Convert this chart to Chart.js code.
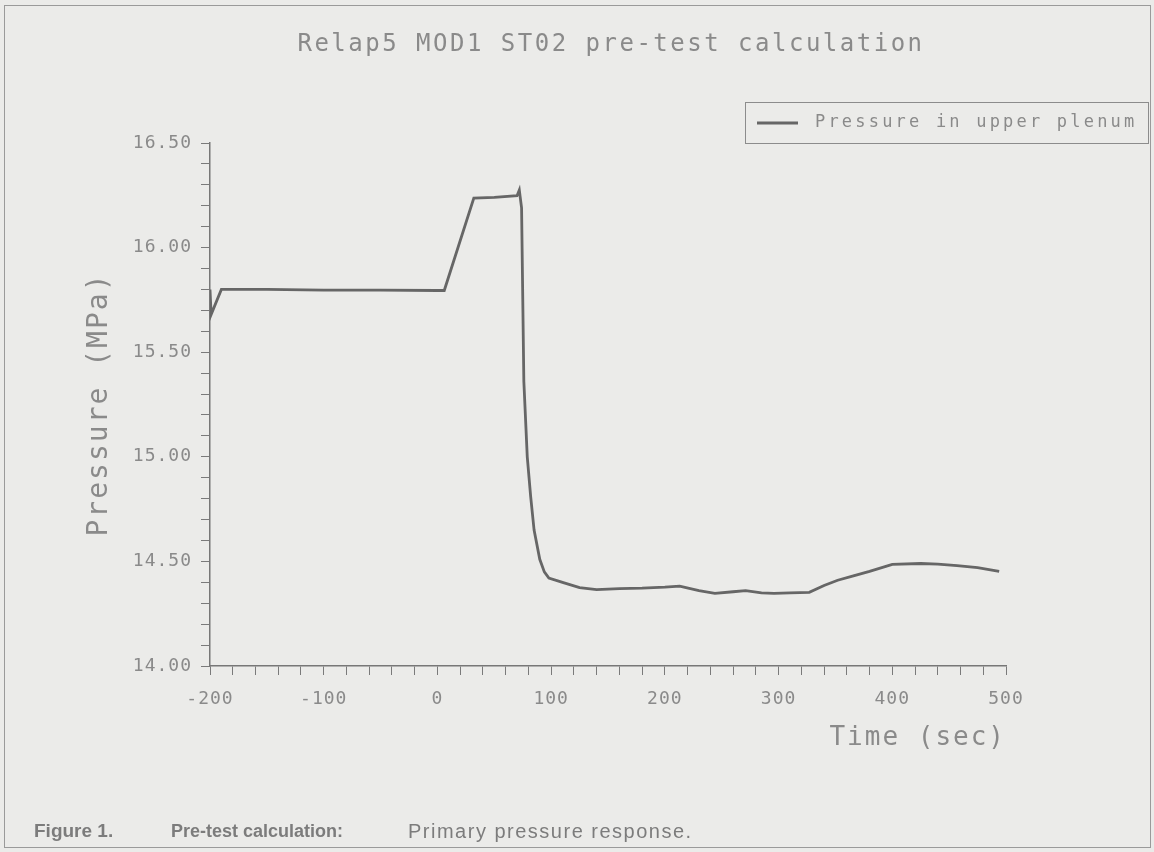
<!DOCTYPE html>
<html>
<head>
<meta charset="utf-8">
<title>Relap5 MOD1 ST02 pre-test calculation</title>
<script src="https://cdn.jsdelivr.net/npm/chart.js@4.4.1/dist/chart.umd.min.js"></script>
<style>
    html, body { margin: 0; padding: 0; background: #ebebe9; }
    #chart-wrap { width: 1154px; height: 852px; }
</style>
</head>
<body>
<div id="chart-wrap"><canvas id="pressure-chart" width="1154" height="852"></canvas></div>
<script>
// values
let times = [-200, -199, -190, -150, -100, -50, 0, 6, 32, 50, 70, 72, 74, 76, 79, 82, 85, 90, 94, 98,
    110, 125, 140, 160, 180, 200, 213, 230, 244, 260, 271, 285, 296, 310, 327, 340, 352, 365, 380,
    400, 425, 440, 457, 475, 494];
let pressures = [15.80, 15.68, 15.80, 15.80, 15.797, 15.797, 15.795, 15.795, 16.237, 16.24, 16.248, 16.275,
    16.19, 15.36, 15.0, 14.81, 14.65, 14.51, 14.45, 14.42, 14.40, 14.375, 14.365, 14.37, 14.372, 14.377,
    14.382, 14.36, 14.347, 14.355, 14.36, 14.35, 14.347, 14.35, 14.352, 14.385, 14.41, 14.43, 14.452,
    14.486, 14.49, 14.487, 14.48, 14.47, 14.452];
let yMajor = [14.0, 14.5, 15.0, 15.5, 16.0, 16.5];
let xMajor = [-200, -100, 0, 100, 200, 300, 400, 500];

let titleText = 'Relap5 MOD1 ST02 pre-test calculation';
let seriesLabel = 'Pressure in upper plenum';
let captionParts = [
    { text: 'Figure 1.', x: 34, font: 'bold 19px', spacing: '0px' },
    { text: 'Pre-test calculation:', x: 171, font: 'bold 18px', spacing: '0px' },
    { text: 'Primary pressure response.', x: 408, font: '20px', spacing: '1.5px' },
];

let mono = '"DejaVu Sans Mono", monospace';
let textGray = '#8a8a8a';
let lineGray = '#666666';

let points = times.map((t, i) => ({ x: t, y: pressures[i] }));

// title, legend box, caption and page frame drawn on top of the chart
let paperDecor = {
    id: 'paperDecor',
    beforeDraw(chart) {
        chart.ctx.letterSpacing = '2px'; // axis titles
    },
    afterDatasetsDraw(chart) {
        chart.ctx.letterSpacing = '1px'; // tick labels (ticks.z = 1)
    },
    afterDraw(chart) {
        let ctx = chart.ctx;
        ctx.save();

        // page frame from the scan
        ctx.letterSpacing = '0px';
        ctx.strokeStyle = '#9a9a9a';
        ctx.lineWidth = 1;
        ctx.strokeRect(4.5, 5.5, 1146, 842);

        // title
        ctx.letterSpacing = '2.5px';
        ctx.font = '24px ' + mono;
        ctx.fillStyle = textGray;
        ctx.textAlign = 'center';
        ctx.textBaseline = 'middle';
        ctx.fillText(titleText, 611, 45);

        // legend
        ctx.strokeStyle = '#8c8c8c';
        ctx.strokeRect(745.5, 102.5, 403, 41);
        let ds = chart.data.datasets[0];
        ctx.strokeStyle = ds.borderColor;
        ctx.lineWidth = ds.borderWidth;
        ctx.beginPath();
        ctx.moveTo(757, 123);
        ctx.lineTo(798, 123);
        ctx.stroke();
        ctx.letterSpacing = '3.2px';
        ctx.font = '17px ' + mono;
        ctx.textAlign = 'left';
        ctx.fillText(ds.label, 815, 123);

        // caption
        ctx.fillStyle = '#7c7c7c';
        captionParts.forEach((p) => {
            ctx.letterSpacing = p.spacing;
            ctx.font = p.font + ' "Liberation Sans", Arial, sans-serif';
            ctx.fillText(p.text, p.x, 832);
        });
        ctx.restore();
    },
};

new Chart(document.getElementById('pressure-chart'), {
    type: 'line',
    data: {
        datasets: [
            {
                label: seriesLabel,
                data: points,
                borderColor: lineGray,
                borderWidth: 2.8,
                pointRadius: 0,
                tension: 0,
                fill: false,
            },
        ],
    },
    options: {
        responsive: false,
        animation: false,
        layout: {
            padding: { left: 0, right: 148, top: 143, bottom: 0 },
        },
        plugins: {
            legend: { display: false },
            title: { display: false },
            tooltip: { enabled: false },
        },
        scales: {
            x: {
                type: 'linear',
                min: -200,
                max: 500,
                afterFit: (scale) => { scale.height = 186; },
                grid: { drawOnChartArea: false, tickLength: 9, color: '#7a7a7a' },
                border: { color: '#777777', width: 1.5 },
                ticks: {
                    stepSize: 20,
                    maxTicksLimit: 100,
                    autoSkip: false,
                    maxRotation: 0,
                    padding: 14,
                    z: 1,
                    color: textGray,
                    font: { family: mono, size: 18 },
                    callback: (v) => (xMajor.includes(Math.round(v)) ? String(Math.round(v)) : ''),
                },
                title: {
                    display: true,
                    text: 'Time (sec)',
                    align: 'end',
                    color: textGray,
                    font: { family: mono, size: 26 },
                    padding: { top: 0, bottom: 98 },
                },
            },
            y: {
                type: 'linear',
                min: 14,
                max: 16.5,
                afterFit: (scale) => { scale.width = 210; },
                grid: { drawOnChartArea: false, tickLength: 9, color: '#7a7a7a' },
                border: { color: '#777777', width: 1.5 },
                ticks: {
                    stepSize: 0.1,
                    maxTicksLimit: 100,
                    autoSkip: false,
                    padding: 9,
                    z: 1,
                    color: textGray,
                    font: { family: mono, size: 18 },
                    callback: (v) => {
                        let major = yMajor.find((m) => Math.abs(m - v) < 1e-6);
                        return major !== undefined ? major.toFixed(2) : '';
                    },
                },
                title: {
                    display: true,
                    text: 'Pressure (MPa)',
                    color: textGray,
                    font: { family: mono, size: 28 },
                    padding: { top: 83, bottom: 0 },
                },
            },
        },
    },
    plugins: [paperDecor],
});
</script>
</body>
</html>
